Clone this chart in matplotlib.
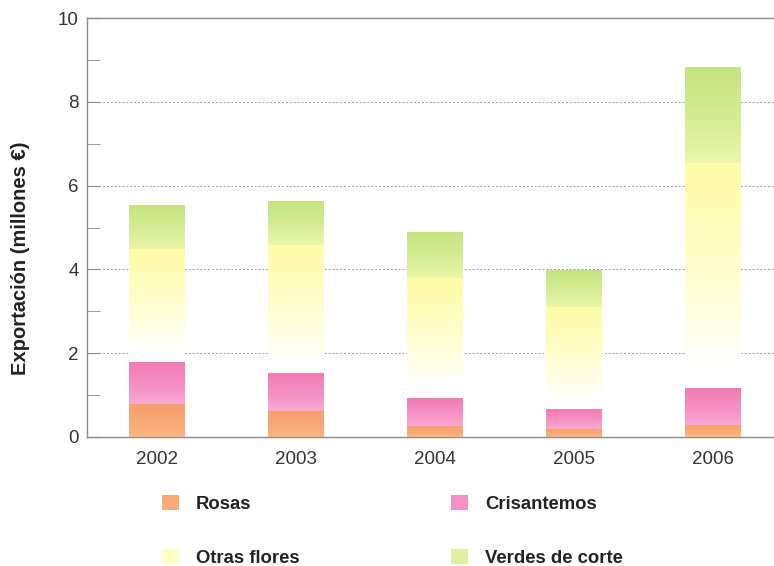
import numpy as np
import matplotlib.pyplot as plt
from matplotlib.patches import Patch

plt.rcParams['font.family'] = ['Liberation Sans', 'DejaVu Sans']

years = ["2002", "2003", "2004", "2005", "2006"]
rosas = [0.79, 0.62, 0.26, 0.19, 0.29]
crisantemos = [1.00, 0.91, 0.67, 0.48, 0.88]
otras_flores = [2.70, 3.05, 2.86, 2.43, 5.37]
verdes_corte = [1.05, 1.05, 1.08, 0.86, 2.27]

series = [
    ("Rosas", rosas),
    ("Crisantemos", crisantemos),
    ("Otras flores", otras_flores),
    ("Verdes de corte", verdes_corte),
]

# colour at bottom / top of each segment (0-255), and where the fade starts
grad = {
    "Rosas": ((250, 182, 132), (247, 160, 108), 0.0),
    "Crisantemos": ((250, 172, 212), (242, 122, 180), 0.0),
    "Otras flores": ((255, 255, 255), (255, 253, 165), 0.12),
    "Verdes de corte": ((236, 246, 172), (196, 228, 128), 0.0),
}
legend_col = {
    "Rosas": "#F8AA78",
    "Crisantemos": "#F590C4",
    "Otras flores": "#FFFFC4",
    "Verdes de corte": "#DDF0A0",
}


def gradient_img(lo, hi, start, n=200):
    f = np.linspace(0, 1, n)
    t = np.clip((f - start) / (1 - start), 0, 1) ** 0.8
    lo = np.array(lo) / 255.0
    hi = np.array(hi) / 255.0
    rgb = lo[None, :] * (1 - t[:, None]) + hi[None, :] * t[:, None]
    return rgb[:, None, :]


fig = plt.figure(figsize=(7.74, 5.66), dpi=100)
ax = fig.add_axes([0.1124, 0.228, 0.8876, 0.74])

x = np.arange(len(years))
width = 0.4
bottom = np.zeros(len(years))
for name, vals in series:
    lo, hi, start = grad[name]
    img = gradient_img(lo, hi, start)
    for i, v in enumerate(vals):
        ax.imshow(img, extent=[x[i] - width / 2, x[i] + width / 2, bottom[i], bottom[i] + v],
                  origin="lower", aspect="auto", zorder=3, interpolation="bilinear")
    bottom += np.array(vals)

ax.set_xlim(-0.505, 4.44)
ax.set_ylim(0, 10)
ax.set_yticks([0, 2, 4, 6, 8, 10])
ax.set_yticks([1, 3, 5, 7, 9], minor=True)
ax.set_xticks(x)
ax.set_xticklabels(years)

ax.yaxis.grid(True, linestyle=(0, (2, 2)), color="#999999", linewidth=0.7, zorder=1)
ax.set_axisbelow(True)

for s in ["left", "top", "bottom"]:
    ax.spines[s].set_color("#8a8a8a")
    ax.spines[s].set_linewidth(1.0)
ax.spines["right"].set_visible(False)

ax.tick_params(axis="y", which="both", direction="in", length=9, color="#8a8a8a",
               labelsize=13.5, labelcolor="#333333", pad=6)
ax.tick_params(axis="x", length=0, labelsize=13.5, labelcolor="#333333", pad=10)

ax.set_ylabel("Exportación (millones €)", fontsize=14.5, fontweight="bold",
              color="#222222")
ax.yaxis.set_label_coords(-0.0825, 0.427)

handles = [Patch(facecolor=legend_col[n], edgecolor="none", label=n)
           for n in ["Rosas", "Otras flores", "Crisantemos", "Verdes de corte"]]
leg = fig.legend(handles=handles, ncol=2, loc="upper left",
                 bbox_to_anchor=(162 / 774, 0.1257), frameon=False, borderpad=0,
                 borderaxespad=0,
                 prop={"size": 13.3, "weight": "bold"},
                 handlelength=0.92, handleheight=0.92, handletextpad=0.92,
                 columnspacing=8.2, labelspacing=1.94)
for t in leg.get_texts():
    t.set_color("#222222")

fig.savefig("out.png", dpi=100, facecolor="white")
